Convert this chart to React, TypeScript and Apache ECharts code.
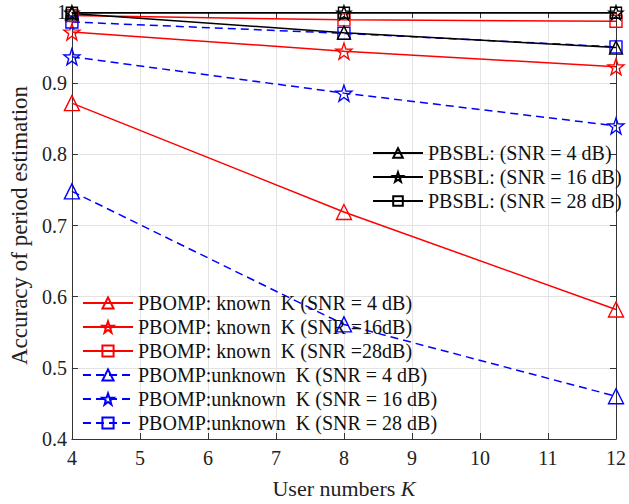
import React, { useEffect, useRef } from "react";
import * as echarts from "echarts";

const userNumbers = [4, 8, 12];
const xTicks = [4, 5, 6, 7, 8, 9, 10, 11, 12];

const pbsblSnr4 = [0.998, 0.971, 0.95];
const pbsblSnr16 = [0.999, 0.999, 0.999];
const pbsblSnr28 = [0.999, 0.999, 0.999];

const knownSnr4 = [0.872, 0.719, 0.582];
const knownSnr16 = [0.972, 0.945, 0.923];
const knownSnr28 = [0.995, 0.989, 0.987];

const unknownSnr4 = [0.748, 0.561, 0.46];
const unknownSnr16 = [0.937, 0.886, 0.84];
const unknownSnr28 = [0.986, 0.97, 0.951];

const NB = "\u00a0";
const pbsblNames = [
  "PBSBL: (SNR = 4 dB)",
  "PBSBL: (SNR = 16 dB)",
  "PBSBL: (SNR = 28 dB)",
];
const pbompNames = [
  `PBOMP: known${NB}${NB}K (SNR = 4 dB)`,
  `PBOMP: known${NB}${NB}K (SNR =16dB)`,
  `PBOMP: known${NB}${NB}K (SNR =28dB)`,
  `PBOMP:unknown${NB}${NB}K (SNR = 4 dB)`,
  `PBOMP:unknown${NB}${NB}K (SNR = 16 dB)`,
  `PBOMP:unknown${NB}${NB}K (SNR = 28 dB)`,
];

const STAR =
  "path://M0,-10L2.35,-3.24L9.51,-3.09L3.8,1.24L5.88,8.09L0,4L-5.88,8.09L-3.8,1.24L-9.51,-3.09L-2.35,-3.24Z";
const FONT = "Liberation Serif";

function makeSeries(
  name: string,
  values: number[],
  color: string,
  symbol: string,
  size: number,
  dashed: boolean
) {
  return {
    name,
    type: "line",
    data: userNumbers.map((x, i) => [x, values[i]]),
    symbol,
    symbolSize: size,
    showSymbol: true,
    lineStyle: { color, width: 1.5, type: dashed ? [8, 5] : "solid" },
    itemStyle: { color: "rgba(255,255,255,0)", borderColor: color, borderWidth: 1.4 },
    emphasis: { disabled: true },
  };
}

export default function App() {
  const ref = useRef<HTMLDivElement>(null);

  useEffect(() => {
    if (!ref.current) return;
    const chart = echarts.init(ref.current, undefined, { renderer: "svg" });
    const axisColor = "#333";
    const legendText = { fontFamily: FONT, fontSize: 20, lineHeight: 20, color: "#111" };

    chart.setOption({
      animation: false,
      backgroundColor: "#fff",
      grid: { left: 67, right: 9, top: 12, bottom: 64 },
      legend: [
        {
          data: pbsblNames,
          orient: "vertical",
          left: 372,
          top: 143,
          padding: 0,
          itemWidth: 50,
          itemHeight: 12,
          itemGap: 4,
          textStyle: legendText,
        },
        {
          data: pbompNames,
          orient: "vertical",
          left: 82,
          top: 293,
          padding: 0,
          itemWidth: 50,
          itemHeight: 14,
          itemGap: 4,
          textStyle: legendText,
        },
      ],
      xAxis: [
        {
          type: "value",
          min: 4,
          max: 12,
          interval: 1,
          name: "User numbers {i|K}",
          nameLocation: "middle",
          nameGap: 38,
          nameTextStyle: {
            fontFamily: FONT,
            fontSize: 22,
            color: "#222",
            rich: { i: { fontFamily: FONT, fontSize: 22, fontStyle: "italic", color: "#222" } },
          },
          axisLine: { show: true, lineStyle: { color: axisColor, width: 1 } },
          axisTick: { show: true, inside: true, length: 6, lineStyle: { color: axisColor } },
          axisLabel: {
            fontFamily: FONT,
            fontSize: 20,
            color: "#222",
            margin: 9,
            customValues: xTicks,
          },
          splitLine: { show: true, lineStyle: { color: "#e3e3e3", width: 1 } },
        },
        {
          type: "value",
          position: "top",
          min: 4,
          max: 12,
          interval: 1,
          axisLine: { show: true, lineStyle: { color: axisColor, width: 1 } },
          axisTick: { show: true, inside: true, length: 6, lineStyle: { color: axisColor } },
          axisLabel: { show: false },
          splitLine: { show: false },
        },
      ],
      yAxis: [
        {
          type: "value",
          min: 0.4,
          max: 1,
          interval: 0.1,
          name: "Accuracy of period estimation",
          nameLocation: "middle",
          nameGap: 36,
          nameTextStyle: { fontFamily: FONT, fontSize: 23, color: "#222" },
          axisLine: { show: true, lineStyle: { color: axisColor, width: 1 } },
          axisTick: { show: true, inside: true, length: 6, lineStyle: { color: axisColor } },
          axisLabel: {
            fontFamily: FONT,
            fontSize: 20,
            color: "#222",
            margin: 5,
            formatter: (v: number) => (Math.abs(v - 1) < 1e-9 ? "1" : v.toFixed(1)),
          },
          splitLine: { show: true, lineStyle: { color: "#e3e3e3", width: 1 } },
        },
        {
          type: "value",
          position: "right",
          min: 0.4,
          max: 1,
          interval: 0.1,
          axisLine: { show: true, lineStyle: { color: axisColor, width: 1 } },
          axisTick: { show: true, inside: true, length: 6, lineStyle: { color: axisColor } },
          axisLabel: { show: false },
          splitLine: { show: false },
        },
      ],
      series: [
        makeSeries(pbompNames[0], knownSnr4, "#ff0000", "triangle", 15, false),
        makeSeries(pbompNames[1], knownSnr16, "#ff0000", STAR, 16, false),
        makeSeries(pbompNames[2], knownSnr28, "#ff0000", "rect", 12, false),
        makeSeries(pbompNames[3], unknownSnr4, "#0000ff", "triangle", 15, true),
        makeSeries(pbompNames[4], unknownSnr16, "#0000ff", STAR, 16, true),
        makeSeries(pbompNames[5], unknownSnr28, "#0000ff", "rect", 12, true),
        makeSeries(pbsblNames[0], pbsblSnr4, "#000000", "triangle", 13, false),
        makeSeries(pbsblNames[1], pbsblSnr16, "#000000", STAR, 14, false),
        makeSeries(pbsblNames[2], pbsblSnr28, "#000000", "rect", 11, false),
      ],
    });

    return () => chart.dispose();
  }, []);

  return (
    <div
      ref={ref}
      style={{ position: "fixed", left: 0, top: 0, width: 629, height: 504 }}
    />
  );
}
